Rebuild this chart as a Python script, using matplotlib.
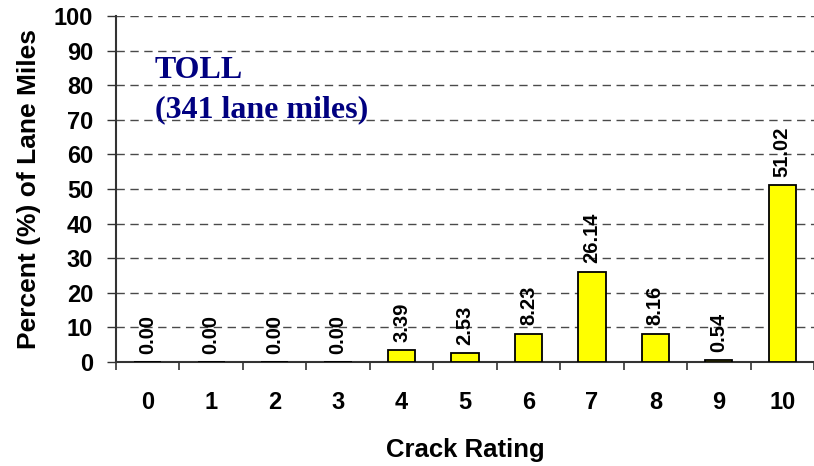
import matplotlib.pyplot as plt
import numpy as np

ratings = ['0', '1', '2', '3', '4', '5', '6', '7', '8', '9', '10']
percent = [0.00, 0.00, 0.00, 0.00, 3.39, 2.53, 8.23, 26.14, 8.16, 0.54, 51.02]

plt.rcParams['font.family'] = 'Liberation Sans'
plt.rcParams['font.weight'] = 'bold'

fig = plt.figure(figsize=(8.14, 4.66), dpi=100)
ax = fig.add_axes([0.1425, 0.2232, 0.8575, 0.7425])

x = np.arange(len(ratings))
ax.bar(x, percent, width=0.43, color='#FFFF00', edgecolor='black', linewidth=1.3, zorder=3)

# value labels above bars
for xi, v in zip(x, percent):
    ax.annotate('%.2f' % v, (xi, v), xytext=(0, 6), textcoords='offset points',
                rotation=90, ha='center', va='bottom', fontsize=14.5, fontweight='bold', zorder=4)

ax.set_xlim(-0.5, 10.5)
ax.set_ylim(0, 100)
ax.set_yticks(np.arange(0, 101, 10))
ax.yaxis.grid(True, linestyle=(0, (6, 4)), color='#4a4a4a', linewidth=1.0, zorder=0)
ax.set_axisbelow(True)

ax.set_xticks(x)
ax.set_xticklabels(ratings)
ax.set_xticks(np.arange(-0.5, 11, 1), minor=True)
ax.tick_params(axis='x', which='major', length=0, pad=21, labelsize=17)
ax.tick_params(axis='x', which='minor', length=6, width=1.2, color='#333333')
ax.tick_params(axis='y', length=6.5, width=1.0, color='#333333', pad=10, labelsize=17)

for s in ['top', 'right']:
    ax.spines[s].set_visible(False)
ax.spines['left'].set_color('#333333')
ax.spines['bottom'].set_color('#333333')
ax.spines['left'].set_linewidth(1.5)
ax.spines['bottom'].set_linewidth(1.5)

ax.set_xlabel('Crack Rating', fontsize=18.5, fontweight='bold', labelpad=17)
ax.set_ylabel('Percent (%) of Lane Miles', fontsize=19, fontweight='bold', labelpad=9)

ax.text(0.115, 82.1, 'TOLL', family='Liberation Serif', fontsize=23, fontweight='bold',
        color='#000080', ha='left', va='baseline')
ax.text(0.115, 70.8, '(341 lane miles)', family='Liberation Serif', fontsize=23, fontweight='bold',
        color='#000080', ha='left', va='baseline')

fig.savefig('out.png', dpi=100)
